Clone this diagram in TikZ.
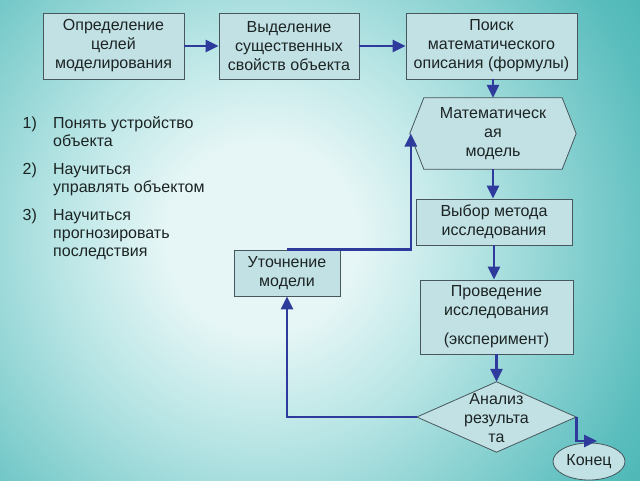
\documentclass[tikz,border=0pt]{standalone}
\usepackage{fontspec}
\setmainfont{Liberation Sans}
\usetikzlibrary{shapes.geometric,arrows.meta}
\definecolor{bgin}{HTML}{E6F6F6}
\definecolor{bglight}{HTML}{B4E3E3}
\definecolor{bgmid}{HTML}{5ABDBD}
\definecolor{bgout}{HTML}{1A9C9C}
\definecolor{boxfill}{HTML}{C2E1E4}
\definecolor{boxline}{HTML}{47575D}
\definecolor{arrowc}{HTML}{2E3A9C}
\definecolor{txt}{HTML}{1C2424}
\pgfdeclareradialshading{bgshade}{\pgfpoint{0bp}{0bp}}{color(0bp)=(bgin); color(4bp)=(bgin); color(9bp)=(bglight); color(17bp)=(bgmid); color(27bp)=(bgout); color(50bp)=(bgout)}
\begin{document}
\begin{tikzpicture}[x=1pt,y=-1pt,
  every node/.style={text=txt,font=\fontsize{16}{19}\selectfont},
  box/.style={draw=boxline,line width=0.8pt,fill=boxfill,align=center,inner sep=0pt},
  plain/.style={draw=none,align=center,inner sep=0pt},
  shp/.style={draw=boxline,line width=0.8pt,fill=boxfill},
  conn/.style={draw=arrowc,line width=2.6pt,-{Triangle[length=13pt,width=12pt]}}]
\useasboundingbox (0,0) rectangle (640,480);
\begin{scope}
\clip (0,0) rectangle (640,480);
\shade[shading=bgshade] (262,238) circle (600);
\end{scope}

% top row
\node[box,minimum width=141pt,minimum height=66pt] (b1) at (113.5,46) {Определение\\целей\\моделирования};
\node[box,minimum width=140pt,minimum height=66pt] (b2) at (289,46) {Выделение\\существенных\\свойств объекта};
\node[box,minimum width=171pt,minimum height=66pt] (b3) at (491.5,46) {Поиск\\математического\\описания (формулы)};

% hexagon
\node[plain,minimum width=166pt,minimum height=71pt] (h) at (493,133.5) {};
\path[shp] (h.west) -- ([xshift=14pt]h.north west) -- ([xshift=-14pt]h.north east) -- (h.east) -- ([xshift=-14pt]h.south east) -- ([xshift=14pt]h.south west) -- cycle;
\node[plain] (ht) at (h.center) {Математическ\\ая\\модель};

\node[box,minimum width=156pt,minimum height=46pt] (v) at (494,222) {Выбор метода\\исследования};
\node[box,minimum width=106pt,minimum height=46pt] (u) at (287,273) {Уточнение\\модели};
\node[box,minimum width=153pt,minimum height=74pt] (p) at (496.5,317) {Проведение\\исследования\\[10pt](эксперимент)};

% diamond
\node[plain,minimum width=159pt,minimum height=70pt] (d) at (496.5,417) {};
\path[shp] (d.north) -- (d.east) -- (d.south) -- (d.west) -- cycle;

\node[ellipse,shp,minimum width=72pt,minimum height=37pt,inner sep=0pt] (k) at (589,461.5) {Конец};
\coordinate (kend) at (597,441);

% connectors
\path[conn] (b1.east) -- (b2.west);
\path[conn] (b2.east) -- (b3.west);
\path[conn] (b3.south -| h.north) -- (h.north);
\path[conn] (h.south) -- (h.south |- v.north);
\path[conn] (v.south) -- (v.south |- p.north);
\path[conn] (p.south) -- (d.north);
\path[conn] (d.west) -| (u.south);
\path[conn] (u.north) -| ([xshift=1pt]h.west);
\path[conn] (d.east) |- (kend);

\node[plain] (dt) at (496.5,418) {Анализ\\результа\\та};

% list
\node[anchor=north west,inner sep=0pt,font=\fontsize{16}{18}\selectfont] (lst) at (22.5,115.5) {%
\begin{tabular}{@{}p{30.5pt}@{}l@{}}
1) & Понять устройство\\
   & объекта\\[10pt]
2) & Научиться\\
   & управлять объектом\\[10pt]
3) & Научиться\\
   & прогнозировать\\
   & последствия
\end{tabular}};
\end{tikzpicture}
\end{document}
